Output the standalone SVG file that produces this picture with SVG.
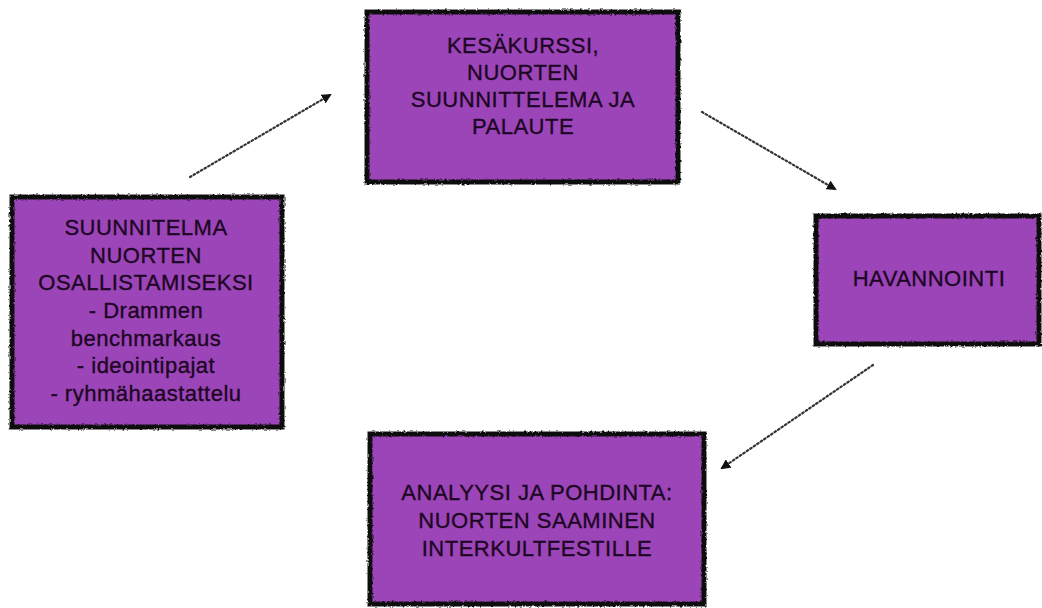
<svg xmlns="http://www.w3.org/2000/svg" width="1042" height="608" viewBox="0 0 1042 608">
<defs>
<style>
.box{fill:#9c44b8;stroke:#111;stroke-width:5;filter:url(#rough)}
.t{font-family:"Liberation Sans",Arial,sans-serif;font-size:22px;fill:#1c0624;stroke:#1c0624;stroke-width:0.35;text-anchor:middle;letter-spacing:0.5px}
.c{fill:none;stroke:#333;stroke-width:2.2;stroke-dasharray:1.6 2.6;stroke-linecap:round}
</style>
<filter id="rough" x="-5%" y="-5%" width="110%" height="110%">
<feTurbulence type="fractalNoise" baseFrequency="0.4" numOctaves="2" seed="3" result="n"/>
<feDisplacementMap in="SourceGraphic" in2="n" scale="3" xChannelSelector="R" yChannelSelector="G"/>
</filter>
<marker id="ah" viewBox="0 0 10 10" refX="8" refY="5" markerWidth="10" markerHeight="10" markerUnits="userSpaceOnUse" orient="auto">
<path d="M0,0 L10,5 L0,10 z" fill="#111"/>
</marker>
</defs>
<g id="connectors">
<line class="c" x1="190" y1="177" x2="330" y2="95" marker-end="url(#ah)"/>
<line class="c" x1="702" y1="112" x2="835" y2="189" marker-end="url(#ah)"/>
<line class="c" x1="873" y1="365" x2="722" y2="468" marker-end="url(#ah)"/>
</g>
<g id="node-kesakurssi">
<rect class="box" x="367" y="12" width="311" height="170"/>
<text class="t" x="523" y="53">KESÄKURSSI,</text>
<text class="t" x="523" y="80">NUORTEN</text>
<text class="t" x="523" y="107">SUUNNITTELEMA JA</text>
<text class="t" x="523" y="134">PALAUTE</text>
</g>
<g id="node-suunnitelma">
<rect class="box" x="12" y="197" width="270" height="230"/>
<text class="t" x="146" y="235">SUUNNITELMA</text>
<text class="t" x="146" y="263">NUORTEN</text>
<text class="t" x="146" y="290">OSALLISTAMISEKSI</text>
<text class="t" x="146" y="318">- Drammen</text>
<text class="t" x="146" y="346">benchmarkaus</text>
<text class="t" x="146" y="373">- ideointipajat</text>
<text class="t" x="146" y="401">- ryhmähaastattelu</text>
</g>
<g id="node-havannointi">
<rect class="box" x="816" y="216" width="223" height="128"/>
<text class="t" x="929" y="286">HAVANNOINTI</text>
</g>
<g id="node-analyysi">
<rect class="box" x="370" y="434" width="334" height="170"/>
<text class="t" x="537" y="500">ANALYYSI JA POHDINTA:</text>
<text class="t" x="537" y="528">NUORTEN SAAMINEN</text>
<text class="t" x="537" y="556">INTERKULTFESTILLE</text>
</g>
</svg>
